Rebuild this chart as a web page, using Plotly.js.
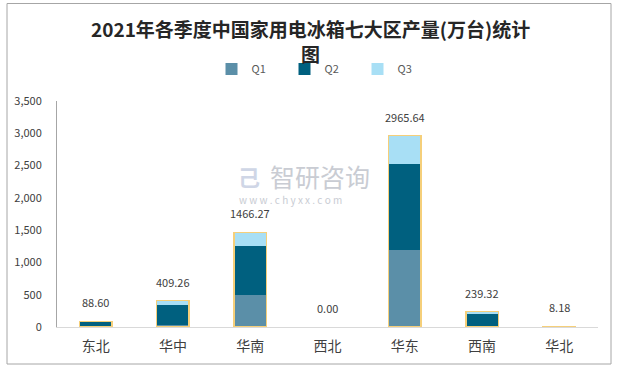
<!DOCTYPE html>
<html>
<head>
<meta charset="utf-8">
<script src="https://cdn.plot.ly/plotly-3.0.1.min.js"></script>
<style>html,body{margin:0;padding:0;background:#fff;}#chart{width:617px;height:367px;}</style>
</head>
<body>
<div id="chart"></div>
<script>
const categories = ["东北", "华中", "华南", "西北", "华东", "西南", "华北"];
const q1 = [0, 37, 496, 0, 1192, 0, 0];
const q2 = [88.60, 299, 758, 0, 1332, 200, 8.18];
const q3 = [0, 73.26, 212.27, 0, 441.64, 39.32, 0];
const totals = [88.60, 409.26, 1466.27, 0.00, 2965.64, 239.32, 8.18];
const seriesNames = ["Q1", "Q2", "Q3"];
const yTicks = [0, 500, 1000, 1500, 2000, 2500, 3000, 3500];
const titleLines = ["2021年各季度中国家用电冰箱七大区产量(万台)统计", "图"];

const colors = ["#5b8fa8", "#00607f", "#a8dff5"];
const cjk = '"Noto Sans CJK SC", "Microsoft YaHei", sans-serif';

const traces = [q1, q2, q3].map((vals, i) => ({
  type: "bar",
  name: seriesNames[i],
  x: categories,
  y: vals,
  width: 0.42,
  marker: { color: colors[i], line: { width: 0 } },
  hoverinfo: "skip"
}));

traces.push({
  type: "bar",
  name: "合计",
  x: categories,
  y: totals,
  xaxis: "x2",
  width: 0.42,
  showlegend: false,
  marker: {
    color: "rgba(0,0,0,0)",
    line: { color: "#f5cf7a", width: totals.map(v => v > 0 ? 1.5 : 0) }
  },
  hoverinfo: "skip"
});

const annotations = categories.map((c, i) => ({
  x: c, y: totals[i], xref: "x", yref: "y",
  text: totals[i].toFixed(2),
  showarrow: false, yanchor: "bottom", yshift: 9,
  font: { family: cjk, size: 11, color: "#404040" }
}));

// title (two lines, single text block)
annotations.push({
  xref: "paper", yref: "paper", x: (310 - 57) / 541, y: (327 - 41) / 226,
  xanchor: "center", yanchor: "middle", showarrow: false,
  text: "<b>" + titleLines.join("<br>") + "</b>",
  font: { family: cjk, size: 19, color: "#262626" }
});

// watermark
annotations.push({
  xref: "paper", yref: "paper", x: (268 - 57) / 541, y: (327 - 176) / 226, xanchor: "left", yanchor: "middle",
  text: "智研咨询", showarrow: false,
  font: { family: cjk, size: 25, color: "#c9ccd3" }
});
annotations.push({
  xref: "paper", yref: "paper", x: (237 - 57) / 541, y: (327 - 199) / 226, xanchor: "left", yanchor: "middle",
  text: "w w w . c h y x x . c o m", showarrow: false,
  font: { family: cjk, size: 10, color: "#c9ccd3" }
});
annotations.push({
  xref: "paper", yref: "paper", x: (236 - 57) / 541, y: (327 - 176) / 226, xanchor: "left", yanchor: "middle",
  text: "<b>己</b>", showarrow: false,
  font: { family: cjk, size: 22, color: "#cfd6e6" }
});

const layout = {
  width: 617, height: 367,
  margin: { l: 57, r: 19, t: 101, b: 40 },
  paper_bgcolor: "#ffffff",
  plot_bgcolor: "#ffffff",
  barmode: "stack",
  showlegend: true,
  legend: {
    orientation: "h", x: 0.488, xanchor: "center", y: (327 - 69) / 226, yanchor: "middle",
    traceorder: "normal",
    font: { family: cjk, size: 11, color: "#595959" },
    itemwidth: 30,
    entrywidth: 28, entrywidthmode: "pixels"
  },
  xaxis: {
    type: "category", range: [-0.5, 6.5],
    showline: true, linecolor: "#d9d9d9", linewidth: 1,
    showgrid: false, zeroline: false, ticks: "",
    tickfont: { family: cjk, size: 14, color: "#404040" },
    ticklabelstandoff: 6,
    fixedrange: true
  },
  xaxis2: {
    type: "category", range: [-0.5, 6.5], overlaying: "x", matches: "x",
    visible: false, showgrid: false, zeroline: false
  },
  yaxis: {
    range: [0, 3500], tickvals: yTicks, tickformat: ",",
    showline: true, linecolor: "#a6a6a6", linewidth: 1,
    showgrid: false, zeroline: false, ticks: "",
    tickfont: { family: cjk, size: 11, color: "#404040" },
    ticklabelstandoff: 12,
    fixedrange: true
  },
  annotations: annotations,
  shapes: [{
    type: "rect", xref: "paper", yref: "paper",
    x0: (7 - 57) / 541, x1: (611 - 57) / 541,
    y0: (327 - 364) / 226, y1: (327 - 3.5) / 226,
    line: { color: "#a6a6a6", width: 1 }, fillcolor: "rgba(0,0,0,0)", layer: "below"
  }]
};

Plotly.newPlot("chart", traces, layout, { displayModeBar: false, staticPlot: true });
</script>
</body>
</html>
